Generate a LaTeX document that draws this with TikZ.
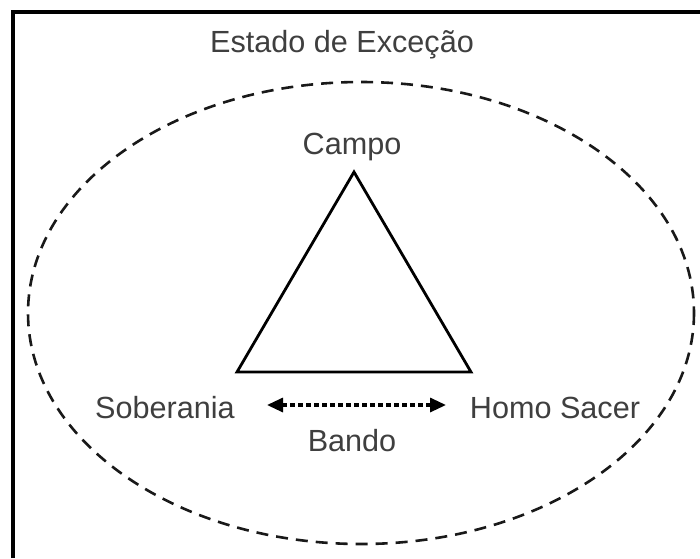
\documentclass[tikz,border=0pt]{standalone}
\usepackage{fontspec}
\setmainfont{Liberation Sans}
\usetikzlibrary{arrows.meta}
\definecolor{txt}{HTML}{3F3F3F}
\tikzset{
  lbl/.style={font=\fontsize{30.6}{36}\selectfont, text=txt, inner sep=0pt, anchor=base},
  frameline/.style={line width=4pt, black},
  dashring/.style={line width=2.6pt, dash pattern=on 12pt off 8pt, black!90},
  tri/.style={line width=2.8pt, black, line join=miter},
  bandoarrow/.style={line width=3.2pt, dash pattern=on 5pt off 3pt, black, {Triangle[length=16pt,width=14pt]}-{Triangle[length=16pt,width=14pt]}}
}
\begin{document}
\begin{tikzpicture}[x=1pt,y=-1pt]
\useasboundingbox (0,0) rectangle (700,558);
\fill[white] (0,0) rectangle (700,558);
% frame (top and left edges)
\coordinate (fbl) at (13,558);
\coordinate (ftl) at (13,12);
\coordinate (ftr) at (700,12);
\draw[frameline] (fbl) -- (ftl) -- (ftr);
% ellipse
\coordinate (ec) at (361,313);
\draw[dashring] (ec) ellipse [x radius=333, y radius=231];
% triangle
\coordinate (tA) at (354,172);
\coordinate (tB) at (237,372);
\coordinate (tC) at (471,372);
\draw[tri] (tA) -- (tB) -- (tC) -- cycle;
% labels
\node[lbl] (estado) at (342,52) {Estado de Exceção};
\node[lbl] (campo) at (352,154) {Campo};
\node[lbl] (sob) at (165,418) {Soberania};
\node[lbl] (homo) at (555,418) {Homo Sacer};
\node[lbl] (bando) at (352,451) {Bando};
% arrow
\coordinate (aL) at (267,405);
\coordinate (aR) at (446,405);
\draw[bandoarrow] (aL) -- (aR);
\end{tikzpicture}
\end{document}
